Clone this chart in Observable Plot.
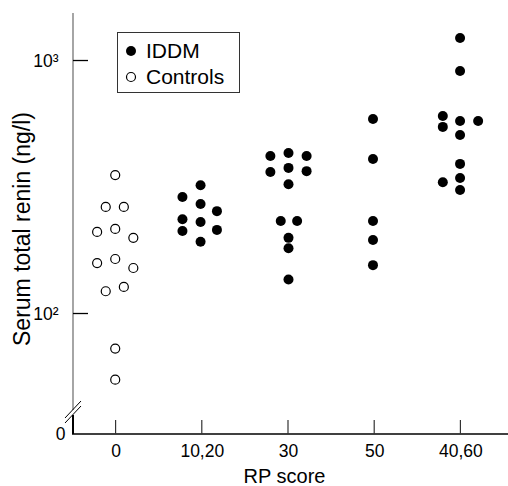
<!DOCTYPE html>
<html><head><meta charset="utf-8">
<script src="https://cdn.jsdelivr.net/npm/d3@7"></script>
<script src="https://cdn.jsdelivr.net/npm/@observablehq/plot@0.6"></script>
<style>
body{margin:0;background:#fff;}
#wrap{position:relative;width:508px;height:486px;font-family:"Liberation Sans",Arial,Helvetica,sans-serif;}
#legend{position:absolute;left:117px;top:32px;width:121px;height:59px;border:1px solid #333;background:#fff;}
#legend svg{display:block;}
</style></head><body>
<div id="wrap"><div id="chart"></div><div id="legend"></div></div>
<script>
// ---- data ----
const categories = ["0", "10,20", "30", "50", "40,60"];
const xTicks = [0, 1, 2, 3, 4];
const seriesNames = ["IDDM", "Controls"];
const xTitle = "RP score";
const yTitle = "Serum total renin (ng/l)";
const yTicks = [100, 1000];
const yTickLabels = ["10²", "10³"];
const yBreakLabel = "0";

// Controls (RP score 0)
const controlsValues = [354, 265, 265, 217, 211, 200, 165, 159, 152, 128, 123, 73, 55];
const controlsJitter = [-0.1, -1.2, 0.9, -0.1, -2.2, 2.0, -0.1, -2.2, 2.0, 0.9, -1.2, -0.1, -0.1];
// IDDM groups
const iddm1020Values = [290, 323, 272, 255, 237, 231, 213, 215, 193];
const iddm1020Jitter = [-2.3, -0.2, -0.2, 1.7, -2.3, -0.2, -2.3, 1.7, -0.2];
const iddm30Values = [421, 433, 421, 364, 378, 367, 326, 233, 233, 200, 182, 137];
const iddm30Jitter = [-2.1, 0, 2.1, -2.1, 0, 2.1, 0, -0.9, 1.0, 0, 0, 0];
const iddm50Values = [590, 410, 233, 196, 156];
const iddm50Jitter = [-0.2, -0.2, -0.2, -0.2, -0.2];
const iddm4060Values = [1233, 913, 606, 549, 579, 579, 510, 392, 332, 345, 309];
const iddm4060Jitter = [-0.1, -0.1, -2.1, -2.1, -0.1, 2.0, -0.1, -0.1, -2.1, -0.1, -0.1];

// ---- build tables ----
const mk = (group, vals, jit) => vals.map((v, i) => ({group, value: v, jitter: jit[i]}));
const controls = mk(0, controlsValues, controlsJitter);
const iddm = [
  ...mk(1, iddm1020Values, iddm1020Jitter),
  ...mk(2, iddm30Values, iddm30Jitter),
  ...mk(3, iddm50Values, iddm50Jitter),
  ...mk(4, iddm4060Values, iddm4060Jitter)
];
const xPos = d => d.group + d.jitter * 0.1;

// axis lines, inward ticks and the axis break, drawn from the plot's own scales
function axisDecor(index, scales, values, dim) {
  const ns = "http://www.w3.org/2000/svg";
  const g = document.createElementNS(ns, "g");
  const x0 = dim.marginLeft, yb = dim.height - dim.marginBottom, yt = dim.marginTop;
  const line = (x1, y1, x2, y2, stroke, w) => {
    const l = document.createElementNS(ns, "line");
    l.setAttribute("x1", x1); l.setAttribute("y1", y1);
    l.setAttribute("x2", x2); l.setAttribute("y2", y2);
    l.setAttribute("stroke", stroke); l.setAttribute("stroke-width", w);
    g.appendChild(l);
  };
  line(x0, yt, x0, yb - 24, "#6a6a6a", 1.2);
  line(x0, yb - 19, x0, yb, "#000", 2);
  line(x0 - 1, yb, dim.width, yb, "#000", 1.5);
  line(x0 - 8, yb - 16, x0 + 8, yb - 33, "#000", 1);
  line(x0 - 8, yb - 11, x0 + 8, yb - 28, "#000", 1);
  xTicks.forEach(t => { const x = scales.x(t); line(x, yb, x, yb - 14, "#333", 1.2); });
  yTicks.forEach(t => { const y = scales.y(t); line(x0, y, x0 + 15, y, "#000", 1.3); });
  return g;
}

const chart = Plot.plot({
  width: 508,
  height: 486,
  marginLeft: 73,
  marginRight: 0,
  marginTop: 13,
  marginBottom: 52,
  style: {fontFamily: "'Liberation Sans', Arial, Helvetica, sans-serif", fontSize: "17.5px", color: "#000", background: "#fff"},
  x: {type: "linear", domain: [-0.494, 4.552]},
  y: {type: "log", domain: [33.4, 1541]},
  marks: [
    axisDecor,
    Plot.axisX({ticks: xTicks, tickFormat: i => categories[i], tickSize: 0, tickPadding: 10, label: null, fontSize: 17.5}),
    Plot.axisY({ticks: yTicks, tickFormat: d => yTickLabels[yTicks.indexOf(d)], tickSize: 0, tickPadding: 15, label: null, fontSize: 17.5}),
    Plot.text([yBreakLabel], {frameAnchor: "bottom-left", dx: -8, textAnchor: "end", lineAnchor: "middle", fontSize: 17.5}),
    Plot.text([xTitle], {frameAnchor: "bottom", textAnchor: "middle", dx: -6.5, dy: 42.5, lineAnchor: "middle", fontSize: 20}),
    Plot.text([yTitle], {frameAnchor: "left", textAnchor: "middle", rotate: -90, dx: -50.5, dy: 5, lineAnchor: "middle", fontSize: 23}),
    Plot.dot(controls, {x: xPos, y: "value", r: 4.5, fill: "#fff", stroke: "#000", strokeWidth: 1.2}),
    Plot.dot(iddm, {x: xPos, y: "value", r: 5, fill: "#000", stroke: "none"})
  ]
});
document.getElementById("chart").appendChild(chart);

// legend (inside plot area, as in the reference)
const ns = "http://www.w3.org/2000/svg";
const lsvg = document.createElementNS(ns, "svg");
lsvg.setAttribute("width", 121); lsvg.setAttribute("height", 59);
seriesNames.forEach((name, i) => {
  const c = document.createElementNS(ns, "circle");
  c.setAttribute("cx", 13); c.setAttribute("cy", 18 + i * 26);
  if (i === 0) { c.setAttribute("r", 5); c.setAttribute("fill", "#000"); }
  else { c.setAttribute("r", 4.5); c.setAttribute("fill", "#fff"); c.setAttribute("stroke", "#000"); c.setAttribute("stroke-width", 1.2); }
  lsvg.appendChild(c);
  const t = document.createElementNS(ns, "text");
  t.setAttribute("x", 28); t.setAttribute("y", 25 + i * 26);
  t.setAttribute("font-size", 21);
  t.setAttribute("font-family", "'Liberation Sans', Arial, Helvetica, sans-serif");
  t.textContent = name;
  lsvg.appendChild(t);
});
document.getElementById("legend").appendChild(lsvg);
</script>
</body></html>
